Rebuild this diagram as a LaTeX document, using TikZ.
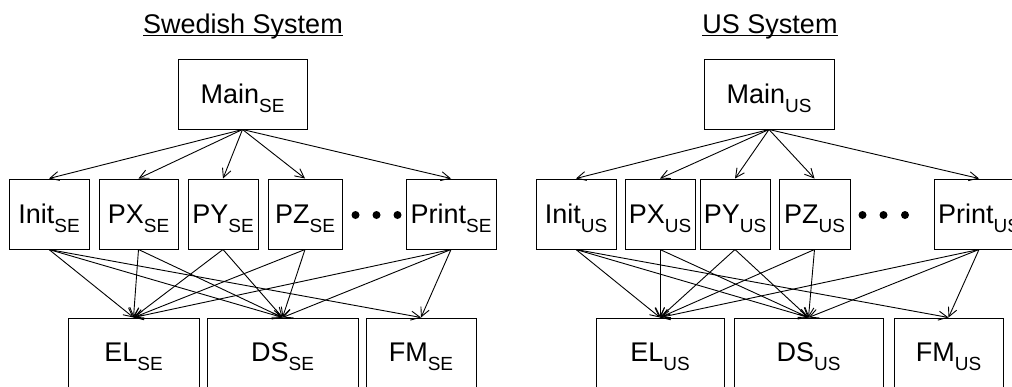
\documentclass[tikz,border=0pt]{standalone}
\usepackage{fontspec}
\setmainfont{Liberation Sans}
\usetikzlibrary{arrows.meta}
\newcommand\subs[1]{\raisebox{-9pt}{\fontsize{19}{19}\selectfont #1}}
\tikzset{
  box/.style={draw, line width=1pt, inner sep=0pt, text height=19.5pt, text depth=0pt, font=\fontsize{27}{27}\selectfont},
  lowbox/.style={box, text depth=14pt, minimum height=82pt},
  arr/.style={-{Straight Barb[length=9pt,width=9pt]}, line width=0.9pt},
  ttl/.style={inner sep=0pt, anchor=base, font=\fontsize{27}{27}\selectfont},
  dot/.style={circle, fill=black, inner sep=0pt, minimum size=8pt}
}
\begin{document}
\begin{tikzpicture}[x=1pt,y=-1pt]
\clip (0,0) rectangle (1012,386);
\fill[white] (0,0) rectangle (1012,386);
% ---------- Swedish ----------
\node[ttl] (tse) at (243,33) {Swedish System};
\draw[line width=1pt] ([yshift=-2pt]tse.base west) -- ([yshift=-2pt]tse.base east);
\node[box, minimum width=129pt, minimum height=70pt] (mainSE) at (242.5,94) {Main\subs{SE}};
\node[box, minimum width=80pt, minimum height=70pt] (initSE) at (49,214) {Init\subs{SE}};
\node[box, minimum width=79pt, minimum height=70pt] (pxSE) at (138.5,214) {PX\subs{SE}};
\node[box, minimum width=70pt, minimum height=70pt] (pySE) at (223,214) {PY\subs{SE}};
\node[box, minimum width=74pt, minimum height=70pt] (pzSE) at (305,214) {PZ\subs{SE}};
\node[box, minimum width=90pt, minimum height=70pt] (prSE) at (451,214) {Print\subs{SE}};
\node[dot] (d1SE) at (355.5,215) {};
\node[dot] (d2SE) at (376.5,215) {};
\node[dot] (d3SE) at (397.5,215) {};
\node[lowbox, minimum width=131pt] (elSE) at (133.5,359) {EL\subs{SE}};
\node[lowbox, minimum width=151pt] (dsSE) at (282.5,359) {DS\subs{SE}};
\node[lowbox, minimum width=110pt] (fmSE) at (421,359) {FM\subs{SE}};
\foreach \t in {initSE,pxSE,pySE,pzSE,prSE} \draw[arr] (mainSE.south) -- (\t.north);
\foreach \s/\t in {initSE/elSE,initSE/dsSE,initSE/fmSE,pxSE/elSE,pxSE/dsSE,pySE/elSE,pySE/dsSE,pzSE/elSE,pzSE/dsSE,prSE/elSE,prSE/dsSE,prSE/fmSE}
  \draw[arr] (\s.south) -- (\t.north);
% ---------- US ----------
\node[ttl] (tus) at (770,33) {US System};
\draw[line width=1pt] ([yshift=-2pt]tus.base west) -- ([yshift=-2pt]tus.base east);
\node[box, minimum width=130pt, minimum height=70pt] (mainUS) at (769,94) {Main\subs{US}};
\node[box, minimum width=80pt, minimum height=70pt] (initUS) at (576,214) {Init\subs{US}};
\node[box, minimum width=70pt, minimum height=70pt] (pxUS) at (660,214) {PX\subs{US}};
\node[box, minimum width=70pt, minimum height=70pt] (pyUS) at (735,214) {PY\subs{US}};
\node[box, minimum width=71pt, minimum height=70pt] (pzUS) at (814.5,214) {PZ\subs{US}};
\node[box, minimum width=90pt, minimum height=70pt] (prUS) at (979,214) {Print\subs{US}};
\node[dot] (d1US) at (862.5,215) {};
\node[dot] (d2US) at (883.5,215) {};
\node[dot] (d3US) at (905,215) {};
\node[lowbox, minimum width=128pt] (elUS) at (660,359) {EL\subs{US}};
\node[lowbox, minimum width=149pt] (dsUS) at (808.5,359) {DS\subs{US}};
\node[lowbox, minimum width=109pt] (fmUS) at (948.5,359) {FM\subs{US}};
\foreach \t in {initUS,pxUS,pyUS,pzUS,prUS} \draw[arr] (mainUS.south) -- (\t.north);
\foreach \s/\t in {initUS/elUS,initUS/dsUS,initUS/fmUS,pxUS/elUS,pxUS/dsUS,pyUS/elUS,pyUS/dsUS,pzUS/elUS,pzUS/dsUS,prUS/elUS,prUS/dsUS,prUS/fmUS}
  \draw[arr] (\s.south) -- (\t.north);
\end{tikzpicture}
\end{document}
